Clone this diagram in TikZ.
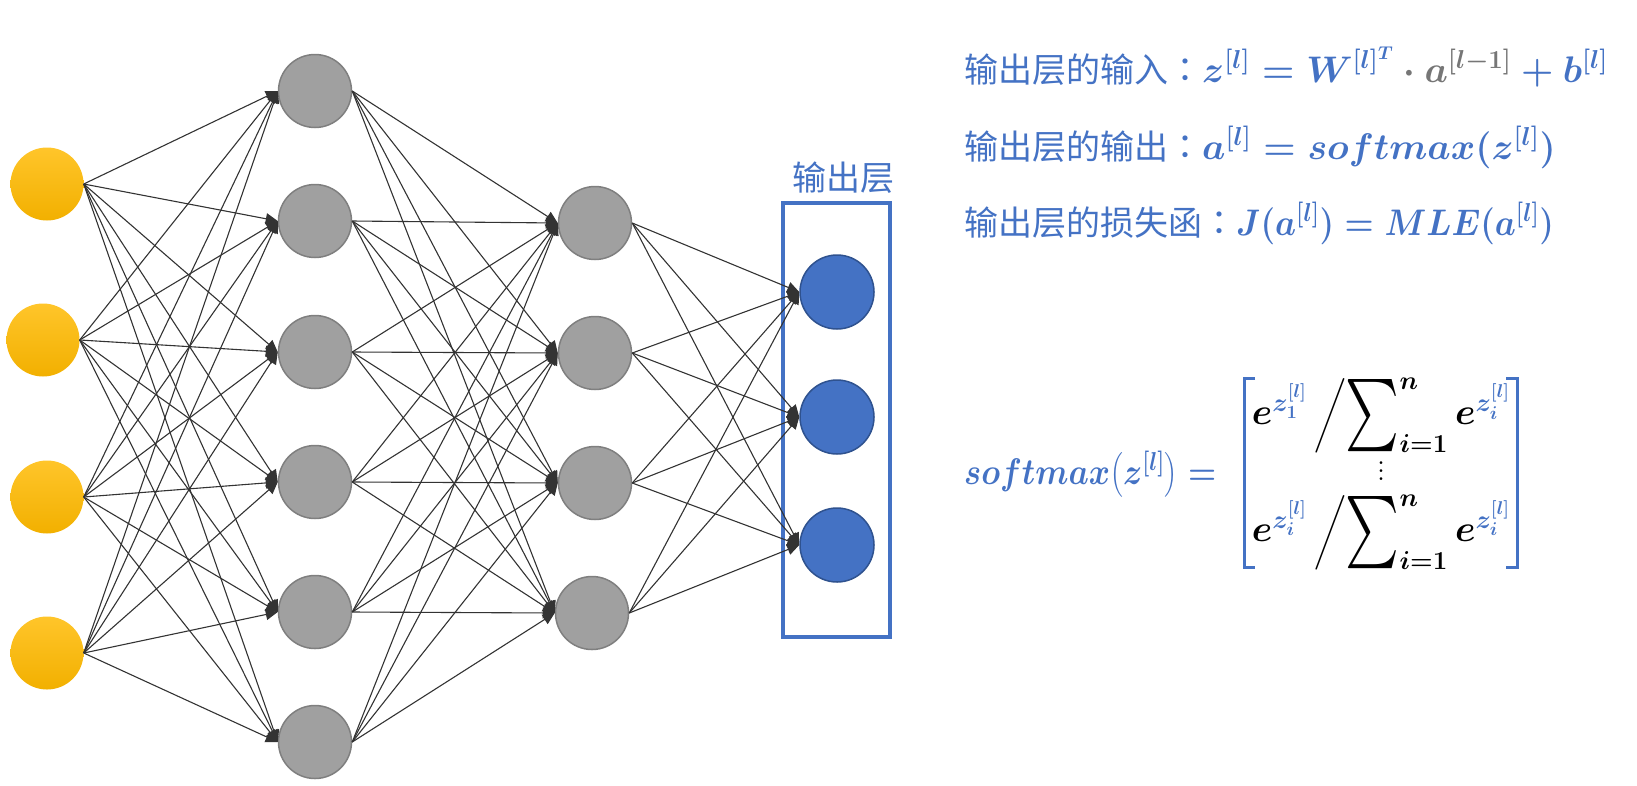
\RequirePackage{fix-cm}
\documentclass[tikz,border=0pt]{standalone}
\usepackage{fontspec}
\usepackage{amsmath}
\usepackage{exscale}
\usepackage{graphicx}
\newfontfamily\cjk{Noto Sans CJK SC}
\newfontfamily\cjktc{Noto Sans CJK TC}
\usetikzlibrary{arrows.meta}
\definecolor{myblue}{HTML}{4472C4}
\definecolor{mybluedark}{HTML}{2F528F}
\definecolor{nodegray}{HTML}{A0A0A0}
\definecolor{nodegraydark}{HTML}{7F7F7F}
\definecolor{yeltop}{HTML}{FFC52A}
\definecolor{yelbot}{HTML}{F2B000}
\definecolor{edgec}{HTML}{333333}
\definecolor{mathgray}{HTML}{767676}
\newcommand\cjkcolon{{\cjktc ：}}
\newcommand\bigsum{\mathop{\vcenter{\hbox{\scalebox{2.05}[2.9]{$\textstyle\sum$}}}}\nolimits}
\newcommand\myvdots{\vcenter{\hbox{\fontsize{34}{7}\selectfont\vbox{\baselineskip=8pt\lineskiplimit=-20pt\hbox{.}\hbox{.}\hbox{.}}}}}
\newcommand\softrow[1]{{\color{black}e^{\textcolor{myblue}{#1}}\,\bigg/\!\bigsum_{i=1}^{n} e^{\textcolor{myblue}{z_i^{[l]}}}}}
\tikzset{
  inpnode/.style={circle, minimum size=73pt, inner sep=0pt, top color=yeltop, bottom color=yelbot, draw=none},
  hidnode/.style={circle, minimum size=73pt, inner sep=0pt, fill=nodegray, draw=nodegraydark, line width=1.5pt},
  outnode/.style={circle, minimum size=74pt, inner sep=0pt, fill=myblue, draw=mybluedark, line width=1.5pt},
  conn/.style={draw=edgec, line width=1.1pt, -{Triangle[length=12pt,width=11pt]}},
  cjktext/.style={text=myblue, font=\fontsize{34}{40}\selectfont\cjk, inner sep=0pt},
  formula/.style={text=myblue, inner sep=0pt, anchor=base west},
  brk/.style={draw=myblue, line width=3pt, line cap=butt, line join=miter},
}
\begin{document}
\begin{tikzpicture}[x=1pt,y=-1pt]
\useasboundingbox (0,0) rectangle (1637,785);
% input layer
\node[inpnode] (i1) at (47,184) {};
\node[inpnode] (i2) at (43,340) {};
\node[inpnode] (i3) at (47,497) {};
\node[inpnode] (i4) at (47,653) {};
% hidden layer 1
\node[hidnode] (h1) at (315,91) {};
\node[hidnode] (h2) at (315,221) {};
\node[hidnode] (h3) at (315,352) {};
\node[hidnode] (h4) at (315,482) {};
\node[hidnode] (h5) at (315,612) {};
\node[hidnode] (h6) at (315,742) {};
% hidden layer 2
\node[hidnode] (g1) at (595,223) {};
\node[hidnode] (g2) at (595,353) {};
\node[hidnode] (g3) at (595,483) {};
\node[hidnode] (g4) at (592,613) {};
% output layer
\node[outnode] (o1) at (837,292) {};
\node[outnode] (o2) at (837,417) {};
\node[outnode] (o3) at (837,545) {};
% output box
\node[draw=myblue, line width=4pt, minimum width=107pt, minimum height=434pt, inner sep=0pt] (box) at (836.5,420) {};
\node[cjktext] (boxlabel) at (843,178) {输出层};
% connections
\foreach \i in {1,...,4}{\foreach \j in {1,...,6}{\draw[conn] (i\i.east) -- (h\j.west);}}
\foreach \i in {1,...,6}{\foreach \j in {1,...,4}{\draw[conn] (h\i.east) -- (g\j.west);}}
\foreach \i in {1,...,4}{\foreach \j in {1,...,3}{\draw[conn] (g\i.east) -- (o\j.west);}}
% formulas
\node[formula] (f1) at (964,82) {{\fontsize{34}{40}\selectfont\cjk 输出层的输入\cjkcolon}{\fontsize{37}{44}\selectfont\boldmath $z^{[l]} = W^{[l]^{T}} \mathbin{\textcolor{mathgray}{\cdot}} \textcolor{mathgray}{a^{[l-1]}} + b^{[l]}$}};
\node[formula] (f2) at (964,159) {{\fontsize{34}{40}\selectfont\cjk 输出层的输出\cjkcolon}{\fontsize{37}{44}\selectfont\boldmath $a^{[l]} = softmax(z^{[l]})$}};
\node[formula] (f3) at (964,235) {{\fontsize{34}{40}\selectfont\cjk 输出层的损失函\cjkcolon}{\fontsize{37}{44}\selectfont\boldmath\scalebox{0.9}[1]{$J(a^{[l]}) = MLE(a^{[l]})$}}};
% softmax definition
\node[formula, font=\fontsize{37}{44}\selectfont\boldmath] (smlhs) at (964,484) {\scalebox{0.87}[1]{$softmax\bigl(z^{[l]}\bigr) =$}};
\node[inner sep=0pt, font=\fontsize{37}{44}\selectfont\boldmath] (smmat) at (1381,474) {$\begin{matrix}\softrow{z_1^{[l]}}\\[-10pt] {\color{black}\myvdots}\\[-6pt] \softrow{z_i^{[l]}}\end{matrix}$};
\draw[brk] (1255,378) -- (1244,378) -- (1244,567) -- (1255,567);
\draw[brk] (1506,378) -- (1517,378) -- (1517,567) -- (1506,567);
\end{tikzpicture}
\end{document}
